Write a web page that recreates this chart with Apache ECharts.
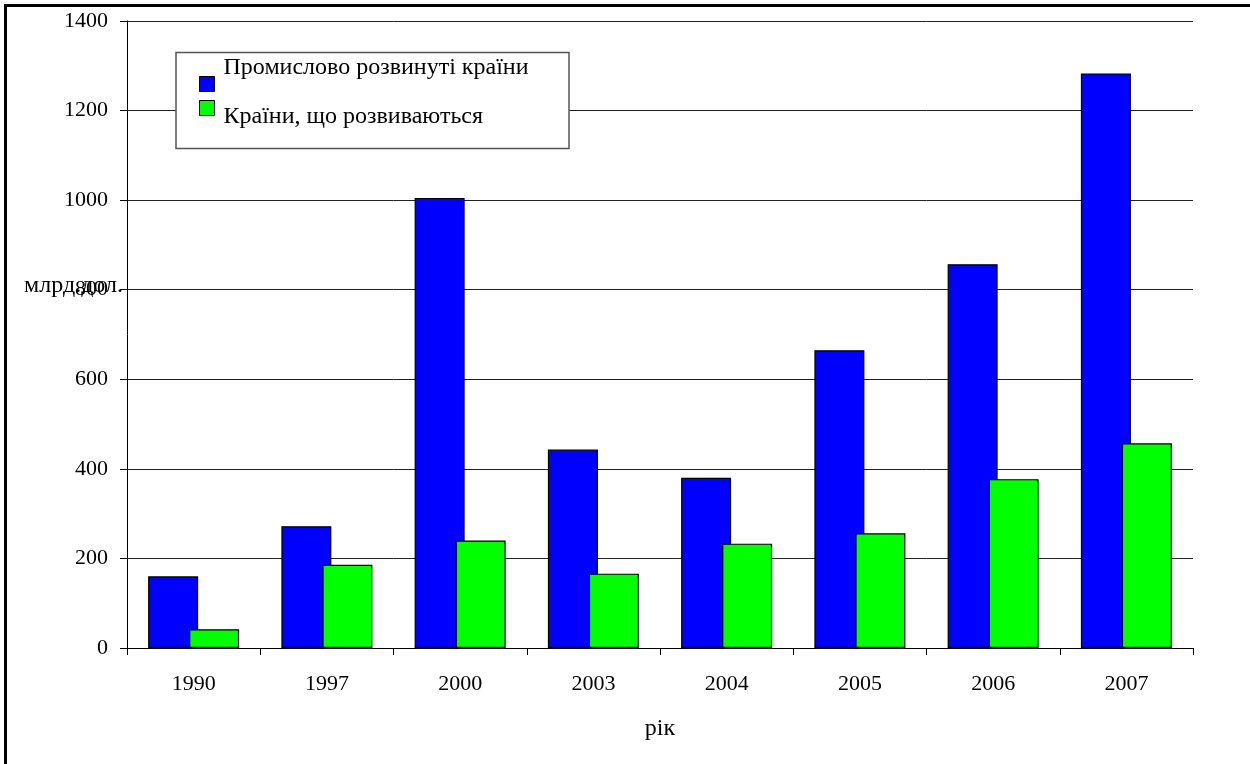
<!DOCTYPE html>
<html>
<head>
<meta charset="utf-8">
<title>Промислово розвинуті країни / Країни, що розвиваються</title>
<script src="https://cdn.jsdelivr.net/npm/echarts@6/dist/echarts.min.js"></script>
<style>
  html, body { margin: 0; padding: 0; background: #fff; }
  #chart { width: 1250px; height: 764px; }
</style>
</head>
<body>
<div id="chart"></div>
<script>
// Years on the category axis
const years = ['1990', '1997', '2000', '2003', '2004', '2005', '2006', '2007'];
// Values, млрд.дол.
const developed = [160, 272, 1005, 443, 380, 665, 857, 1283];
const developing = [42, 186, 240, 166, 233, 256, 377, 457];
// Value axis ticks
const yTicks = [0, 200, 400, 600, 800, 1000, 1200, 1400];

const seriesNames = ['Промислово розвинуті країни', 'Країни, що розвиваються'];
const FONT = '"Liberation Serif", "Times New Roman", serif';

const chart = echarts.init(document.getElementById('chart'));

// legend entry text, lifted (or lowered) against its colour square via padding
function legendEntry(name, pad) {
  return {
    data: [name],
    left: 199, padding: 0, z: 5,
    icon: 'rect', itemWidth: 15, itemHeight: 15,
    itemStyle: { borderColor: '#000', borderWidth: 1 },
    formatter: n => '{t|' + n + '}',
    textStyle: {
      fontFamily: FONT, fontSize: 24, color: '#000',
      rich: { t: { fontFamily: FONT, fontSize: 24, color: '#000', padding: pad } }
    }
  };
}

chart.setOption({
  animation: false,
  backgroundColor: '#fff',
  textStyle: { fontFamily: FONT },
  grid: { left: 127, right: 57, top: 21, bottom: 116, containLabel: false, outerBoundsMode: 'none' },
  graphic: [
    {
      // outer frame
      type: 'rect', z: 0, silent: true,
      shape: { x: 5.5, y: 5.5, width: 1400, height: 900 },
      style: { fill: 'none', stroke: '#000', lineWidth: 3 }
    },
    {
      // legend box
      type: 'rect', z: 3, silent: true,
      shape: { x: 176, y: 52.5, width: 393, height: 96 },
      style: { fill: '#fff', stroke: '#555', lineWidth: 1.5 }
    }
  ],
  legend: [
    Object.assign(legendEntry(seriesNames[0], [0, 0, 32, 4]), { top: 56 }),
    Object.assign(legendEntry(seriesNames[1], [18, 0, 0, 4]), { top: 100 })
  ],
  xAxis: {
    type: 'category',
    data: years,
    name: 'рік',
    nameLocation: 'middle',
    nameGap: 69,
    nameMoveOverlap: false,
    nameTextStyle: { fontFamily: FONT, fontSize: 24, color: '#000' },
    axisLine: { lineStyle: { color: '#000', width: 1 } },
    axisTick: { show: true, length: 7, lineStyle: { color: '#000' } },
    axisLabel: { fontFamily: FONT, fontSize: 22, color: '#000', margin: 25 },
    splitLine: { show: false }
  },
  yAxis: {
    type: 'value',
    min: yTicks[0],
    max: yTicks[yTicks.length - 1],
    interval: yTicks[1] - yTicks[0],
    name: '{n|млрд.дол.}',
    nameLocation: 'middle',
    nameRotate: 0,
    nameGap: 4,
    nameMoveOverlap: false,
    nameTextStyle: {
      fontFamily: FONT, fontSize: 24, color: '#000',
      rich: { n: { fontFamily: FONT, fontSize: 24, color: '#000', padding: [0, 0, 97, 0] } }
    },
    axisLine: { show: true, lineStyle: { color: '#000', width: 1 } },
    axisTick: { show: true, length: 7, lineStyle: { color: '#000' } },
    axisLabel: {
      fontFamily: FONT, fontSize: 22, color: '#000', margin: 19,
      formatter: v => String(v)
    },
    splitLine: { show: true, lineStyle: { color: '#222', width: 1 } }
  },
  series: [
    {
      name: seriesNames[0],
      type: 'bar',
      data: developed,
      barWidth: 50,
      barGap: '-18%',
      itemStyle: { color: '#0000ff', borderColor: '#000', borderWidth: 1.2 }
    },
    {
      name: seriesNames[1],
      type: 'bar',
      data: developing,
      barWidth: 50,
      barGap: '-18%',
      itemStyle: { color: '#00ff00', borderColor: '#000', borderWidth: 1.2 }
    }
  ]
});
</script>
</body>
</html>
